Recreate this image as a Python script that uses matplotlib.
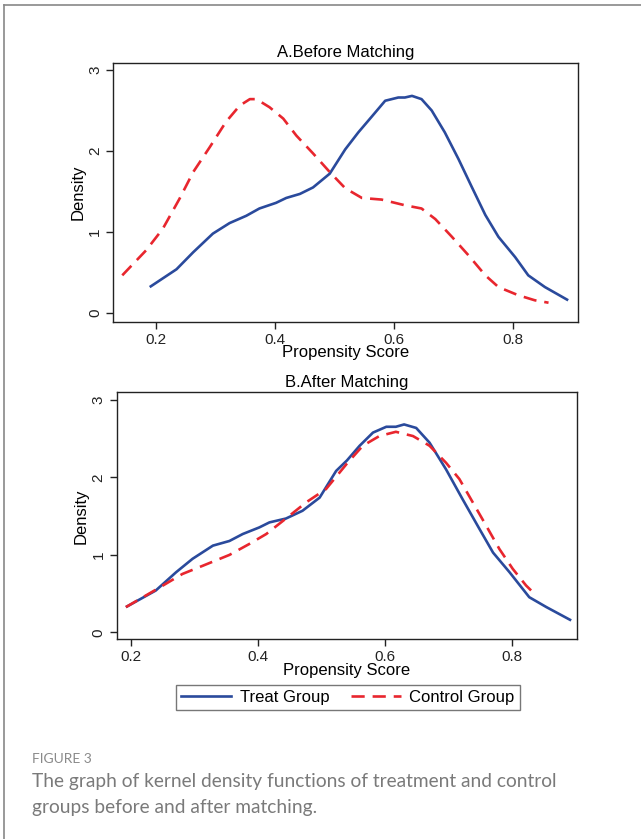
import matplotlib.pyplot as plt
from matplotlib.lines import Line2D

# Before matching
treat_before_x = [0.190, 0.235, 0.263, 0.296, 0.324, 0.352, 0.374, 0.402, 0.419, 0.442, 0.464, 0.492,
                  0.518, 0.540, 0.562, 0.585, 0.607, 0.618, 0.630, 0.646, 0.663, 0.685, 0.708, 0.730,
                  0.753, 0.775, 0.803, 0.825, 0.853, 0.892]
treat_before_y = [0.32, 0.54, 0.75, 0.98, 1.11, 1.20, 1.29, 1.36, 1.42, 1.47, 1.55, 1.72,
                  2.02, 2.23, 2.42, 2.62, 2.66, 2.66, 2.68, 2.64, 2.50, 2.23, 1.90, 1.56,
                  1.21, 0.94, 0.69, 0.465, 0.32, 0.157]
control_before_x = [0.144, 0.184, 0.212, 0.240, 0.263, 0.291, 0.318, 0.341, 0.358, 0.369, 0.391, 0.414,
                    0.436, 0.464, 0.492, 0.518, 0.546, 0.579, 0.618, 0.646, 0.669, 0.697, 0.725,
                    0.753, 0.775, 0.808, 0.836, 0.859]
control_before_y = [0.465, 0.774, 1.04, 1.41, 1.74, 2.05, 2.36, 2.56, 2.64, 2.64, 2.54, 2.40,
                    2.19, 1.97, 1.74, 1.54, 1.42, 1.40, 1.33, 1.29, 1.16, 0.94, 0.71,
                    0.465, 0.32, 0.22, 0.157, 0.127]

# After matching
treat_after_x = [0.192, 0.239, 0.271, 0.297, 0.329, 0.355, 0.376, 0.402, 0.418, 0.444, 0.470, 0.497,
                 0.523, 0.540, 0.560, 0.581, 0.602, 0.617, 0.630, 0.649, 0.670, 0.696, 0.722, 0.749,
                 0.770, 0.796, 0.827, 0.854, 0.893]
treat_after_y = [0.326, 0.54, 0.776, 0.95, 1.12, 1.18, 1.27, 1.355, 1.42, 1.47, 1.57, 1.74,
                 2.085, 2.22, 2.41, 2.58, 2.655, 2.655, 2.685, 2.64, 2.45, 2.105, 1.72, 1.33,
                 1.03, 0.776, 0.454, 0.326, 0.154]
control_after_x = [0.192, 0.239, 0.281, 0.313, 0.355, 0.386, 0.413, 0.444, 0.476, 0.507, 0.540,
                   0.565, 0.591, 0.617, 0.644, 0.670, 0.696, 0.717, 0.738, 0.759, 0.780, 0.801,
                   0.822, 0.835]
control_after_y = [0.326, 0.55, 0.754, 0.86, 1.00, 1.14, 1.27, 1.47, 1.68, 1.85, 2.18,
                   2.41, 2.535, 2.59, 2.535, 2.41, 2.19, 1.98, 1.68, 1.38, 1.076, 0.82,
                   0.605, 0.50]

x_ticks = [0.2, 0.4, 0.6, 0.8]
y_ticks = [0, 1, 2, 3]

BLUE = '#2a4a9c'
RED = '#e8262e'
DASH = [5, 3]

plt.rcParams['font.family'] = ['Liberation Sans', 'DejaVu Sans']

fig = plt.figure(figsize=(6.41, 8.39), dpi=100)

ax1 = fig.add_axes([0.1768, 0.6166, 0.7245, 0.3087])
ax2 = fig.add_axes([0.182, 0.238, 0.718, 0.2944])


def style(ax, title, xlim, ylim):
    ax.set_xlim(*xlim)
    ax.set_ylim(*ylim)
    ax.set_xticks(x_ticks)
    ax.set_xticklabels(['0.2', '0.4', '0.6', '0.8'])
    ax.set_yticks(y_ticks)
    ax.set_yticklabels(['0', '1', '2', '3'], rotation=90, va='center')
    ax.tick_params(direction='out', length=5, width=1, labelsize=11, colors='#222222', pad=3)
    ax.set_title(title, fontsize=12, pad=4)
    ax.set_xlabel('Propensity Score', fontsize=12, labelpad=-1)
    ax.set_ylabel('Density', fontsize=12, labelpad=2)
    for s in ax.spines.values():
        s.set_linewidth(1.0)
        s.set_color('#222222')


for ax, (tx, ty, cx, cy) in [(ax1, (treat_before_x, treat_before_y, control_before_x, control_before_y)),
                             (ax2, (treat_after_x, treat_after_y, control_after_x, control_after_y))]:
    ax.plot(tx, ty, color=BLUE, lw=1.9, solid_joinstyle='round', solid_capstyle='butt')
    ln, = ax.plot(cx, cy, color=RED, lw=1.9, dash_capstyle='butt', dash_joinstyle='round')
    ln.set_dashes(DASH)

style(ax1, 'A.Before Matching', (0.129, 0.908), (-0.107, 3.09))
style(ax2, 'B.After Matching', (0.1775, 0.902), (-0.09, 3.1))

handles = [Line2D([], [], color=BLUE, lw=1.9),
           Line2D([], [], color=RED, lw=1.9, dashes=DASH)]
leg = fig.legend(handles, ['Treat Group', 'Control Group'], loc='center',
                 bbox_to_anchor=(0.5429, 0.1686), ncol=2, fontsize=12,
                 fancybox=False, frameon=True, edgecolor='#555555',
                 handlelength=3.0, columnspacing=1.3, borderpad=0.3, handletextpad=0.5,
                 borderaxespad=0)
leg.get_frame().set_linewidth(1.0)

# outer panel border (top and left edges)
fig.add_artist(Line2D([4 / 641, 1.0], [1 - 5 / 839, 1 - 5 / 839], color='#888888', lw=1.2,
                      transform=fig.transFigure))
fig.add_artist(Line2D([4 / 641, 4 / 641], [0.0, 1 - 5 / 839], color='#888888', lw=1.2,
                      transform=fig.transFigure))

fig.text(32 / 641, 1 - 759 / 839, 'FIGURE 3', fontsize=10, color='#8a8a8a',
         family=['Lato', 'DejaVu Sans'], va='center', ha='left')
fig.text(32 / 641, 1 - 782 / 839, 'The graph of kernel density functions of treatment and control',
         fontsize=13.8, color='#7a7a7a', family=['Lato', 'DejaVu Sans'], va='center', ha='left')
fig.text(32 / 641, 1 - 807 / 839, 'groups before and after matching.',
         fontsize=13.8, color='#7a7a7a', family=['Lato', 'DejaVu Sans'], va='center', ha='left')

fig.savefig('out.png', dpi=100)
plt.close(fig)
